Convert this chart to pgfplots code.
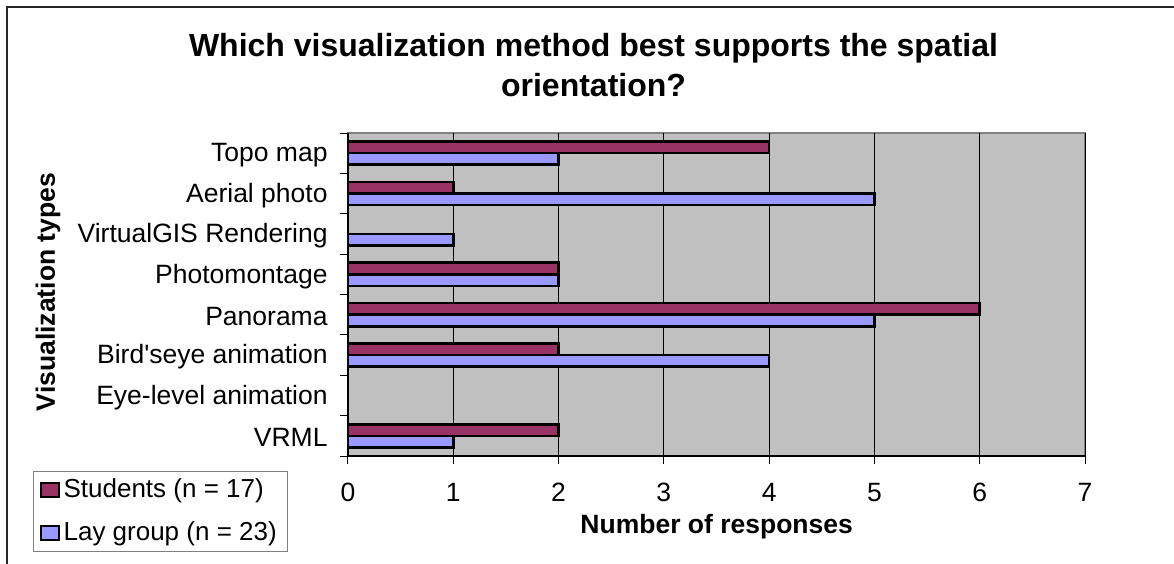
\documentclass[border=0pt]{standalone}
\usepackage{fontspec}
\setmainfont{Liberation Sans}
\usepackage{textcomp}
\usepackage{pgfplots}
\pgfplotsset{compat=1.18}
\definecolor{stud}{HTML}{993366}
\definecolor{lay}{HTML}{9999FF}
\definecolor{plotbg}{HTML}{C0C0C0}
\definecolor{plotborder}{HTML}{808080}
\begin{document}
\fontsize{13.25}{15}\selectfont
\begin{tikzpicture}
\useasboundingbox (0,0) rectangle (587pt,281.5pt);
\draw[line width=0.9pt, black!85] (3.5pt,-30pt) -- (3.5pt,278pt) -- (640pt,278pt);
\node[font=\fontsize{16}{20}\selectfont\bfseries, align=center, anchor=base] at (296.75pt,253.2pt)
  {Which visualization method best supports the spatial};
\node[font=\fontsize{16}{20}\selectfont\bfseries, anchor=base] at (296.75pt,233.2pt) {orientation?};
\begin{axis}[
  at={(174pt,53.5pt)}, anchor=south west,
  scale only axis, width=368.5pt, height=161.5pt,
  xmin=0, xmax=7, ymin=-0.5, ymax=7.5,
  axis lines=left, axis line style={-, black, line width=0.8pt},
  axis background/.style={fill=plotbg, draw=plotborder, line width=1pt},
  tick align=outside, major tick length=4pt,
  tick style={black, line width=0.5pt},
  xtick={0,...,7},
  xmajorgrids, major grid style={black, line width=0.5pt},
  xticklabel style={font=\fontsize{13.25}{15}\selectfont, yshift=-5pt},
  /pgf/number format/assume math mode=true,
  ytick={-0.5,0.5,...,7.5}, yticklabels={},
  extra y ticks={0,1,2,3,4,5,6,7},
  extra y tick labels={VRML,Eye-level animation,Bird\textquotesingle seye animation,Panorama,Photomontage,VirtualGIS Rendering,Aerial photo,Topo map},
  extra y tick style={major tick length=0pt, yticklabel style={font=\fontsize{13.25}{15}\selectfont, xshift=-5.6pt, yshift=-1pt}},
  bar width=5.8pt,
  legend style={at={(-0.4274,-0.0464)}, anchor=north west, draw=plotborder, fill=white,
    font=\fontsize{13}{15}\selectfont, inner xsep=3.2pt, inner ysep=1.5pt, row sep=6pt, line width=0.6pt},
  legend cell align=left,
  legend image code/.code={\draw[#1, line width=0.8pt] (0pt,-3.5pt) rectangle (9pt,3.5pt);},
]
\addplot[xbar, bar shift=2.9pt, fill=stud, draw=black, line width=1.3pt]
  coordinates {(4,7) (1,6) (2,4) (6,3) (2,2) (2,0)};
\addlegendentry{Students (n = 17)}
\addplot[xbar, bar shift=-2.9pt, fill=lay, draw=black, line width=1.3pt]
  coordinates {(2,7) (5,6) (1,5) (2,4) (5,3) (4,2) (1,0)};
\addlegendentry{Lay group (n = 23)}
\end{axis}
\node[font=\fontsize{13.25}{15}\selectfont\bfseries, anchor=base] at (358.35pt,15pt) {Number of responses};
\node[font=\fontsize{13.25}{15}\selectfont\bfseries, rotate=90, anchor=base] at (27.5pt,135.5pt) {Visualization types};
\end{tikzpicture}
\end{document}
